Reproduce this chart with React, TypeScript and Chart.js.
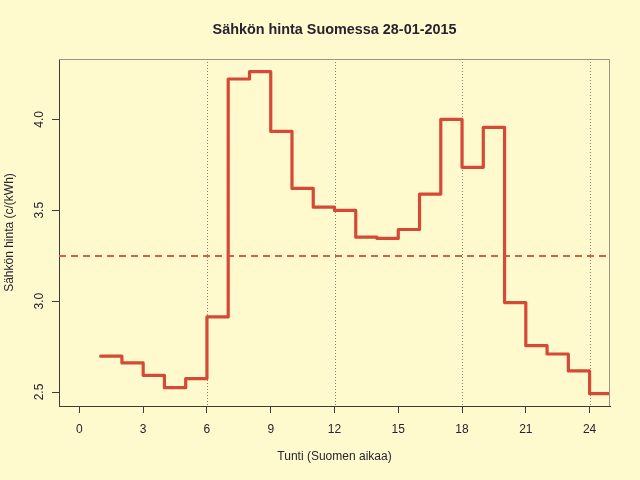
import { useEffect, useRef } from "react";
import { Chart, registerables } from "chart.js";
import type { ChartConfiguration, Plugin } from "chart.js";

Chart.register(...registerables);

// ---------------------------------------------------------------------------
// Data
// ---------------------------------------------------------------------------
const HOURS = [1, 2, 3, 4, 5, 6, 7, 8, 9, 10, 11, 12, 13, 14, 15, 16, 17, 18, 19, 20, 21, 22, 23, 24];
const PRICES = [
  2.697, 2.66, 2.592, 2.524, 2.574, 2.913, 4.222, 4.262, 3.934, 3.62, 3.517, 3.499,
  3.352, 3.345, 3.394, 3.589, 4.0, 3.736, 3.956, 2.992, 2.755, 2.709, 2.616, 2.491,
];
const X_TICKS = [0, 3, 6, 9, 12, 15, 18, 21, 24];
const Y_TICKS = [2.5, 3.0, 3.5, 4.0];
const Y_TICK_LABELS = ["2.5", "3.0", "3.5", "4.0"];
const GUIDE_HOURS = [6, 12, 18, 24];
const X_MIN = -0.96;
const X_MAX = 24.96;
const Y_MIN = 2.423;
const Y_MAX = 4.332;

const TITLE = "Sähkön hinta Suomessa 28-01-2015";
const X_TITLE = "Tunti (Suomen aikaa)";
const Y_TITLE = "Sähkön hinta (c/(kWh)";

// ---------------------------------------------------------------------------
// Styles
// ---------------------------------------------------------------------------
const BG = "#FFFACD";
const TEXT = "#272331";
const LINE_RED = "#D44A36";
const MEAN_RED = "#E05A45";
const AXIS = "#3d3a40";
const BOX = "#9a9583";
const GUIDE = "#858276";
const FONT = '"Liberation Sans", Arial, Helvetica, sans-serif';

const meanPrice = PRICES.reduce((a, b) => a + b, 0) / PRICES.length;

// step line: one closing point so the last hour gets its full width
const stepPoints = [
  ...HOURS.map((h, i) => ({ x: h, y: PRICES[i] })),
  { x: HOURS[HOURS.length - 1] + 1, y: PRICES[PRICES.length - 1] },
];

const decorPlugin: Plugin<"line"> = {
  id: "decor",
  beforeDraw(chart) {
    const ctx = chart.ctx;
    ctx.save();
    ctx.fillStyle = BG;
    ctx.fillRect(0, 0, chart.width, chart.height);
    ctx.restore();
  },
  beforeDatasetsDraw(chart) {
    const { ctx, chartArea } = chart;
    const xs = chart.scales.x;
    ctx.save();
    ctx.strokeStyle = GUIDE;
    ctx.lineWidth = 1;
    ctx.setLineDash([1, 2]);
    GUIDE_HOURS.forEach((h) => {
      const px = Math.round(xs.getPixelForValue(h)) + 0.5;
      ctx.beginPath();
      ctx.moveTo(px, chartArea.top);
      ctx.lineTo(px, chartArea.bottom);
      ctx.stroke();
    });
    ctx.restore();
  },
  afterDraw(chart) {
    const { ctx, chartArea } = chart;
    const ys = chart.scales.y;
    ctx.save();

    // box (top / right)
    ctx.strokeStyle = BOX;
    ctx.lineWidth = 1;
    ctx.beginPath();
    ctx.moveTo(chartArea.left, chartArea.top + 0.5);
    ctx.lineTo(chartArea.right - 0.5, chartArea.top + 0.5);
    ctx.lineTo(chartArea.right - 0.5, chartArea.bottom);
    ctx.stroke();

    ctx.fillStyle = TEXT;

    // title
    ctx.font = `bold 14.4px ${FONT}`;
    ctx.textAlign = "center";
    ctx.textBaseline = "middle";
    const cx = (chartArea.left + chartArea.right) / 2;
    ctx.fillText(TITLE, cx, 30);

    // x title
    ctx.font = `12px ${FONT}`;
    ctx.fillText(X_TITLE, cx, 457);

    // y tick labels (rotated like R)
    Y_TICKS.forEach((v, i) => {
      const py = ys.getPixelForValue(v);
      ctx.save();
      ctx.translate(39.5, py);
      ctx.rotate(-Math.PI / 2);
      ctx.fillText(Y_TICK_LABELS[i], 0, 0);
      ctx.restore();
    });

    // y title
    ctx.save();
    ctx.translate(10, (chartArea.top + chartArea.bottom) / 2);
    ctx.rotate(-Math.PI / 2);
    ctx.fillText(Y_TITLE, 0, 0);
    ctx.restore();

    ctx.restore();
  },
};

const createConfig = (): ChartConfiguration<"line"> => ({
  type: "line",
  data: {
    datasets: [
      {
        label: "hinta",
        data: stepPoints,
        stepped: true,
        borderColor: LINE_RED,
        borderWidth: 3.2,
        borderCapStyle: "round",
        borderJoinStyle: "round",
        pointRadius: 0,
        fill: false,
      },
      {
        label: "keskiarvo",
        data: [
          { x: X_MIN, y: meanPrice },
          { x: X_MAX, y: meanPrice },
        ],
        borderColor: MEAN_RED,
        borderWidth: 2,
        borderDash: [7, 5],
        pointRadius: 0,
        fill: false,
      },
    ],
  },
  options: {
    responsive: false,
    devicePixelRatio: 1,
    animation: false,
    layout: { padding: { top: 59, right: 30, left: 0, bottom: 0 } },
    plugins: {
      legend: { display: false },
      title: { display: false },
      tooltip: { enabled: false },
    },
    scales: {
      x: {
        type: "linear",
        min: X_MIN,
        max: X_MAX,
        afterBuildTicks: (scale) => {
          scale.ticks = X_TICKS.map((v) => ({ value: v }));
        },
        afterFit: (scale) => {
          scale.height = 74;
        },
        grid: {
          drawOnChartArea: false,
          drawTicks: true,
          tickLength: 7,
          tickColor: AXIS,
          tickWidth: 1,
        },
        border: { display: true, color: AXIS, width: 1 },
        ticks: {
          color: TEXT,
          padding: 9,
          maxRotation: 0,
          autoSkip: false,
          font: { family: FONT, size: 12 },
        },
      },
      y: {
        type: "linear",
        min: Y_MIN,
        max: Y_MAX,
        afterBuildTicks: (scale) => {
          scale.ticks = Y_TICKS.map((v) => ({ value: v }));
        },
        afterFit: (scale) => {
          scale.width = 59;
        },
        grid: {
          drawOnChartArea: false,
          drawTicks: true,
          tickLength: 7,
          tickColor: AXIS,
          tickWidth: 1,
        },
        border: { display: true, color: AXIS, width: 1 },
        ticks: { display: false },
      },
    },
  },
  plugins: [decorPlugin],
});

export default function App() {
  const canvasRef = useRef<HTMLCanvasElement>(null);
  const chartRef = useRef<Chart<"line"> | null>(null);

  useEffect(() => {
    if (!canvasRef.current) return;
    if (chartRef.current) chartRef.current.destroy();
    chartRef.current = new Chart(canvasRef.current, createConfig());
    return () => {
      if (chartRef.current) {
        chartRef.current.destroy();
        chartRef.current = null;
      }
    };
  }, []);

  return (
    <div style={{ position: "fixed", left: 0, top: 0, width: 640, height: 480, background: BG }}>
      <canvas ref={canvasRef} width={640} height={480} style={{ display: "block" }} />
    </div>
  );
}
